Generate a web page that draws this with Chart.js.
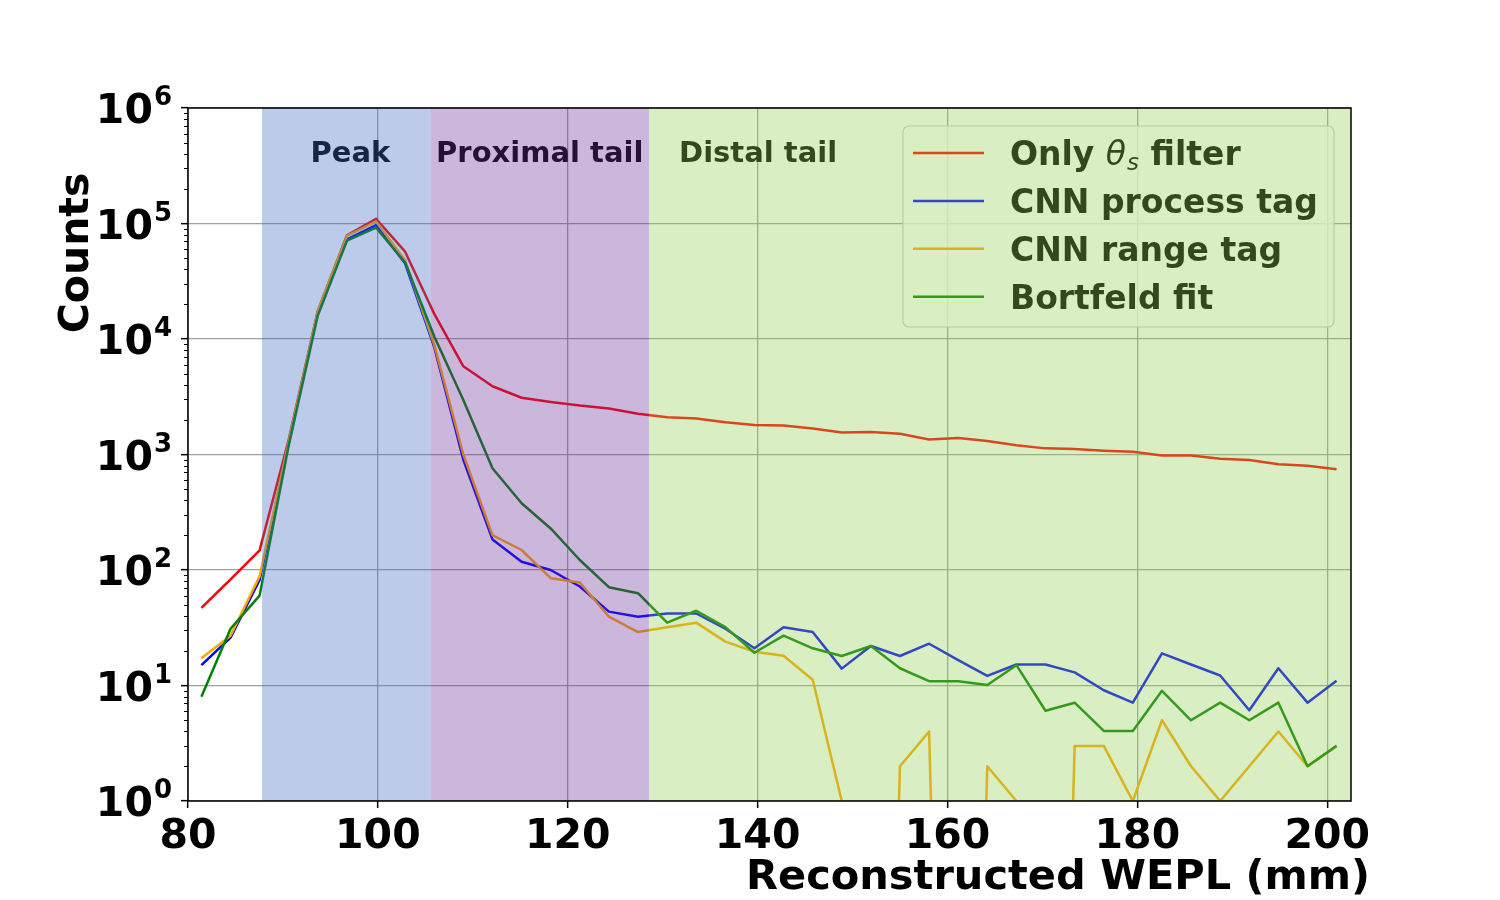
<!DOCTYPE html>
<html>
<head>
<meta charset="utf-8">
<title>WEPL counts</title>
<script src="https://cdn.jsdelivr.net/npm/chart.js@4.4.1/dist/chart.umd.min.js"></script>
<style>
    html, body { margin: 0; padding: 0; background: #fff; }
    #wrap { width: 1500px; height: 900px; }
</style>
</head>
<body>
<div id="wrap"><canvas id="chart" width="1500" height="900"></canvas></div>
<script>
// Bin centres (mm) and counts per series
const wepl = [81.41, 84.48, 87.54, 90.61, 93.67, 96.74, 99.81, 102.87, 105.94, 109.0,
              112.07, 115.14, 118.2, 121.27, 124.33, 127.4, 130.47, 133.53, 136.6, 139.66,
              142.73, 145.8, 148.86, 151.93, 154.99, 158.06, 161.13, 164.19, 167.26, 170.32,
              173.39, 176.46, 179.52, 182.59, 185.65, 188.72, 191.79, 194.85, 197.92, 200.98];

const onlyTheta = [47, 83, 148, 1350, 17500, 79000, 110000, 57000, 16500, 5800,
                   3900, 3100, 2850, 2650, 2500, 2250, 2100, 2050, 1900, 1800,
                   1780, 1680, 1550, 1565, 1515, 1350, 1390, 1310, 1205, 1130,
                   1115, 1080, 1058, 980, 978, 920, 896, 822, 800, 745];

const cnnProcess = [15, 26, 82, 1250, 17000, 73000, 97000, 45000, 8500, 900,
                    184, 118, 100, 72, 43.6, 39.4, 42, 42, 31, 21,
                    32, 29, 14, 22, 18, 23, 16.6, 12.1, 15.2, 15.2,
                    13, 9.1, 7.1, 19, 15.2, 12.2, 6.1, 14.1, 7.1, 11];

const cnnRange = [17.2, 27, 88, 1300, 17500, 78000, 104000, 48000, 8900, 1000,
                  200, 149, 85, 78, 39.4, 29, 32, 35, 24, 19.6,
                  18.1, 11.2, 1, 0, 2, 4, 0, 2, 1, 0,
                  3, 3, 1, 5, 2, 1, 2, 4, 2, 3];

const bortfeld = [8, 31, 60, 1200, 16000, 71000, 92000, 46000, 10500, 2960,
                  760, 378, 229, 122, 71, 63, 35, 44.4, 32, 19.2,
                  27, 21, 18, 22, 14.1, 10.9, 10.9, 10.1, 15, 6.05,
                  7.1, 4.04, 4.04, 9, 5, 7.1, 5, 7.1, 2, 3];

const seriesNames = ['Only θ_s filter', 'CNN process tag', 'CNN range tag', 'Bortfeld fit'];

// Shaded WEPL regions (mm)
const regionNames = ['Peak', 'Proximal tail', 'Distal tail'];
const regionStart = [87.8, 105.6, 128.55];
const regionEnd = [105.6, 128.55, 202.5];
const regionLabelX = [97.1, 117.05, 140.05];

const xTicks = [80, 100, 120, 140, 160, 180, 200];
const yDecades = [1, 10, 100, 1000, 10000, 100000, 1000000];

// styles
const seriesColors = ['#ff0000', '#0000ff', '#ffa500', '#008000'];
const regionFills = ['rgba(64,107,195,0.35)', 'rgba(107,50,155,0.35)', 'rgba(146,206,81,0.35)'];
const FONT = '"DejaVu Sans", "Liberation Sans", sans-serif';

// matplotlib clips zero counts on a log axis: send them far below the floor
const LOG_FLOOR = 1e-9;
function toPoints(counts) {
    return wepl.map((x, i) => ({ x: x, y: counts[i] > 0 ? counts[i] : LOG_FLOOR }));
}

// legend text with a math theta and subscript s
function drawRichLabel(ctx, text, x, y) {
    const parts = text.split(/(θ_s)/);
    let cx = x;
    parts.forEach(p => {
        if (p === 'θ_s') {
            ctx.font = 'italic 33px ' + FONT;
            ctx.fillText('θ', cx, y);
            cx += ctx.measureText('θ').width;
            ctx.font = 'italic 23px ' + FONT;
            ctx.fillText('s', cx + 1, y + 5);
            cx += ctx.measureText('s').width + 1;
        } else if (p.length) {
            ctx.font = 'bold 33px ' + FONT;
            ctx.fillText(p, cx, y);
            cx += ctx.measureText(p).width;
        }
    });
}

function drawLegend(ctx, area) {
    const left = area.right - 448;
    const top = area.top + 18;
    ctx.beginPath();
    ctx.roundRect(left, top, 431, 201, 6);
    ctx.fillStyle = 'rgba(255,255,255,0.8)';
    ctx.fill();
    ctx.strokeStyle = '#cccccc';
    ctx.lineWidth = 1.2;
    ctx.stroke();

    seriesNames.forEach((name, i) => {
        const cy = top + 27 + i * 47.9;
        ctx.strokeStyle = seriesColors[i];
        ctx.lineWidth = 2.5;
        ctx.beginPath();
        ctx.moveTo(left + 10, cy);
        ctx.lineTo(left + 81, cy);
        ctx.stroke();
        ctx.fillStyle = '#000';
        ctx.textAlign = 'left';
        ctx.textBaseline = 'alphabetic';
        drawRichLabel(ctx, name, left + 107, cy + 12);
    });
}

const mplLook = {
    id: 'mplLook',
    afterDatasetsDraw(chart) {
        const { ctx, chartArea: a, scales: { x } } = chart;
        ctx.save();

        // region labels
        ctx.font = 'bold 29px ' + FONT;
        ctx.fillStyle = '#000';
        ctx.textAlign = 'center';
        ctx.textBaseline = 'alphabetic';
        regionNames.forEach((name, i) => {
            ctx.fillText(name, x.getPixelForValue(regionLabelX[i]), a.top + 54);
        });

        drawLegend(ctx, a);

        // translucent spans on top of everything inside the axes
        regionNames.forEach((name, i) => {
            const x0 = Math.max(x.getPixelForValue(regionStart[i]), a.left);
            const x1 = Math.min(x.getPixelForValue(regionEnd[i]), a.right);
            ctx.fillStyle = regionFills[i];
            ctx.fillRect(x0, a.top, x1 - x0, a.bottom - a.top);
        });
        ctx.restore();
    },
    afterDraw(chart) {
        const { ctx, chartArea: a, scales: { x, y } } = chart;
        ctx.save();

        // axes box
        ctx.strokeStyle = '#000';
        ctx.lineWidth = 1.5;
        ctx.strokeRect(a.left, a.top, a.right - a.left, a.bottom - a.top);

        // minor ticks on the log axis
        ctx.lineWidth = 1;
        yDecades.slice(0, -1).forEach(d => {
            for (let m = 2; m <= 9; m++) {
                const py = Math.round(y.getPixelForValue(d * m)) + 0.5;
                ctx.beginPath();
                ctx.moveTo(a.left - 4, py);
                ctx.lineTo(a.left, py);
                ctx.stroke();
            }
        });

        ctx.fillStyle = '#000';
        ctx.textBaseline = 'alphabetic';

        // y tick labels 10^n
        yDecades.forEach((v, k) => {
            const py = y.getPixelForValue(v);
            const right = a.left - 16;
            ctx.font = 'bold 26px ' + FONT;
            ctx.textAlign = 'right';
            const exp = String(k);
            const ew = ctx.measureText(exp).width;
            ctx.fillText(exp, right, py - 3);
            ctx.font = 'bold 41px ' + FONT;
            ctx.fillText('10', right - ew - 1, py + 15);
        });

        // x tick labels
        ctx.font = 'bold 41px ' + FONT;
        ctx.textAlign = 'center';
        xTicks.forEach(v => {
            ctx.fillText(String(v), x.getPixelForValue(v), a.bottom + 47);
        });

        // axis titles
        ctx.font = 'bold 41.5px ' + FONT;
        ctx.textAlign = 'right';
        ctx.fillText('Reconstructed WEPL (mm)', a.right + 19, a.bottom + 88);

        ctx.save();
        ctx.font = 'bold 41px ' + FONT;
        ctx.translate(a.left - 100, a.top + 145);
        ctx.rotate(-Math.PI / 2);
        ctx.textAlign = 'center';
        ctx.fillText('Counts', 0, 0);
        ctx.restore();

        ctx.restore();
    }
};

const allSeries = [onlyTheta, cnnProcess, cnnRange, bortfeld];

new Chart(document.getElementById('chart'), {
    type: 'line',
    data: {
        datasets: allSeries.map((s, i) => ({
            label: seriesNames[i],
            data: toPoints(s),
            borderColor: seriesColors[i],
            borderWidth: 2.5,
            pointRadius: 0,
            tension: 0,
            fill: false,
            borderJoinStyle: 'round',
            order: allSeries.length - i
        }))
    },
    options: {
        responsive: false,
        animation: false,
        devicePixelRatio: 1,
        layout: { padding: { left: 181, right: 149, top: 108, bottom: 92 } },
        plugins: {
            legend: { display: false },
            tooltip: { enabled: false }
        },
        scales: {
            x: {
                type: 'linear',
                min: 80,
                max: 202.5,
                afterBuildTicks: scale => { scale.ticks = xTicks.map(v => ({ value: v })); },
                ticks: { display: false },
                border: { display: false },
                grid: {
                    color: '#a0a0a0',
                    lineWidth: 1.3,
                    tickColor: '#000',
                    tickWidth: 1.5,
                    tickLength: 7
                }
            },
            y: {
                type: 'logarithmic',
                min: 1,
                max: 1000000,
                afterBuildTicks: scale => { scale.ticks = yDecades.map(v => ({ value: v, major: true })); },
                ticks: { display: false },
                border: { display: false },
                grid: {
                    color: '#a0a0a0',
                    lineWidth: 1.3,
                    tickColor: '#000',
                    tickWidth: 1.5,
                    tickLength: 7
                }
            }
        }
    },
    plugins: [mplLook]
});
</script>
</body>
</html>
